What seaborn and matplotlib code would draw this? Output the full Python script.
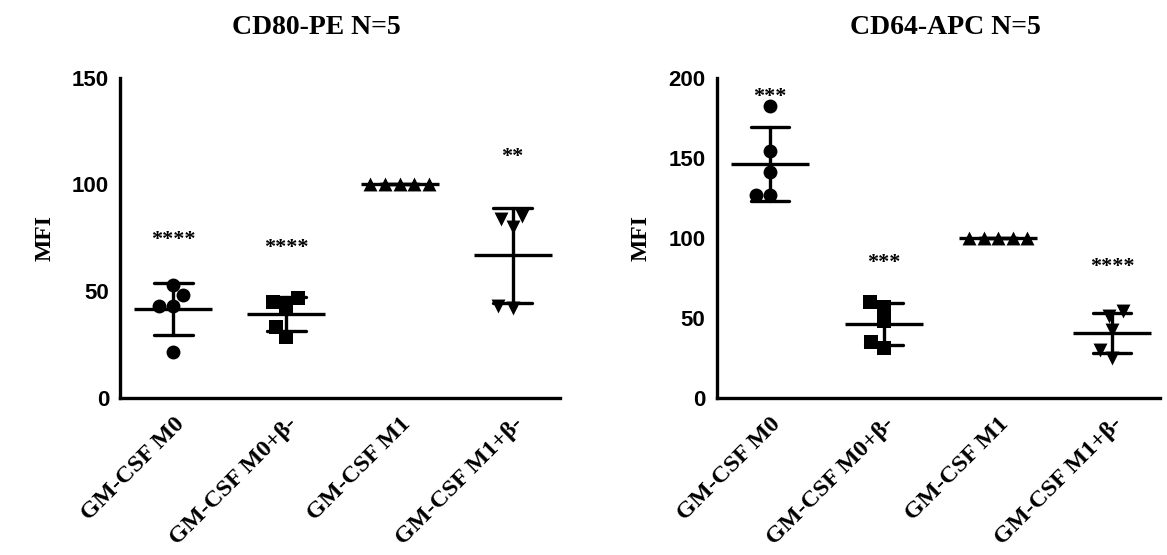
import pandas as pd
import matplotlib
matplotlib.use("Agg")
import matplotlib.pyplot as plt
import seaborn as sns

# groups shared by both panels
groups = ["GM-CSF M0", "GM-CSF M0+β-", "GM-CSF M1", "GM-CSF M1+β-"]
markers = ["o", "s", "^", "v"]

# CD80-PE values (MFI, normalised to M1 = 100)
cd80_m0 = [53, 48, 43, 43, 21.5]
cd80_m0b = [47, 45, 43, 33, 28.5]
cd80_m1 = [100, 100, 100, 100, 100]
cd80_m1b = [84, 85, 80, 42, 43]
cd80_stars = ["****", "****", "", "**"]
cd80_star_y = [74, 70, None, 113]

# CD64-APC values
cd64_m0 = [182.5, 154, 141, 127, 127]
cd64_m0b = [60, 57, 48, 35, 31]
cd64_m1 = [100, 100, 100, 100, 100]
cd64_m1b = [54, 51, 42.5, 30, 25]
cd64_stars = ["***", "***", "", "****"]
cd64_star_y = [188, 84, None, 82]


def make_df(*series):
    rows = []
    for g, vals in zip(groups, series):
        for v in vals:
            rows.append({"group": g, "value": v})
    return pd.DataFrame(rows)


def draw_panel(ax, df, ymax, ystep, stars, star_y):
    lw = 2.4
    for g, m in zip(groups, markers):
        sub = df[df["group"] == g]
        sns.swarmplot(data=sub, x="group", y="value", order=groups, marker=m,
                      color="black", size=10, linewidth=0, ax=ax, zorder=3)
    # mean +/- SD
    sns.pointplot(data=df, x="group", y="value", order=groups, errorbar="sd",
                  capsize=0.34, linestyle="none", color="black", marker="_",
                  markersize=56, markeredgewidth=lw,
                  err_kws={"linewidth": lw}, ax=ax)
    for i, (s, y) in enumerate(zip(stars, star_y)):
        if s:
            ax.text(i, y, s, ha="center", va="center", fontsize=16,
                    fontweight="bold", family="Liberation Serif", color="black")

    ax.set_xlim(-0.47, 3.42)
    ax.set_ylim(0, ymax)
    ax.set_yticks(range(0, ymax + 1, ystep))
    ax.set_xlabel("")
    ax.set_ylabel("MFI", fontsize=17, fontweight="bold", color="black",
                  family="Liberation Serif", labelpad=12)
    sns.despine(ax=ax)
    for sp in ["left", "bottom"]:
        ax.spines[sp].set_linewidth(lw)
        ax.spines[sp].set_color("black")
    ax.tick_params(axis="both", width=lw, length=6, direction="out",
                   colors="black", pad=2)
    ax.tick_params(axis="x", pad=5)
    ax.set_xticks(range(len(groups)))
    ax.set_xticklabels(groups, rotation=45, ha="right", rotation_mode="anchor",
                       fontsize=17.5, fontweight="bold", family="Liberation Serif")
    for lab in ax.get_yticklabels():
        lab.set_fontsize(16)
        lab.set_fontweight("bold")
        lab.set_family("Liberation Sans")


sns.set_style("white")
plt.rcParams["font.family"] = ["Liberation Sans", "DejaVu Sans"]
plt.rcParams["text.color"] = "black"

fig = plt.figure(figsize=(11.67, 5.55), dpi=100)
ax1 = fig.add_axes([0.103, 0.283, 0.377, 0.577])
ax2 = fig.add_axes([0.614, 0.283, 0.380, 0.577])

df80 = make_df(cd80_m0, cd80_m0b, cd80_m1, cd80_m1b)
df64 = make_df(cd64_m0, cd64_m0b, cd64_m1, cd64_m1b)

draw_panel(ax1, df80, 150, 50, cd80_stars, cd80_star_y)
draw_panel(ax2, df64, 200, 50, cd64_stars, cd64_star_y)

fig.text(316 / 1167, 1 - 28 / 555, "CD80-PE N=5", ha="center", va="center",
         fontsize=20, fontweight="bold", family="Liberation Serif")
fig.text(945 / 1167, 1 - 28 / 555, "CD64-APC N=5", ha="center", va="center",
         fontsize=20, fontweight="bold", family="Liberation Serif")

fig.savefig("out.png", dpi=100)
